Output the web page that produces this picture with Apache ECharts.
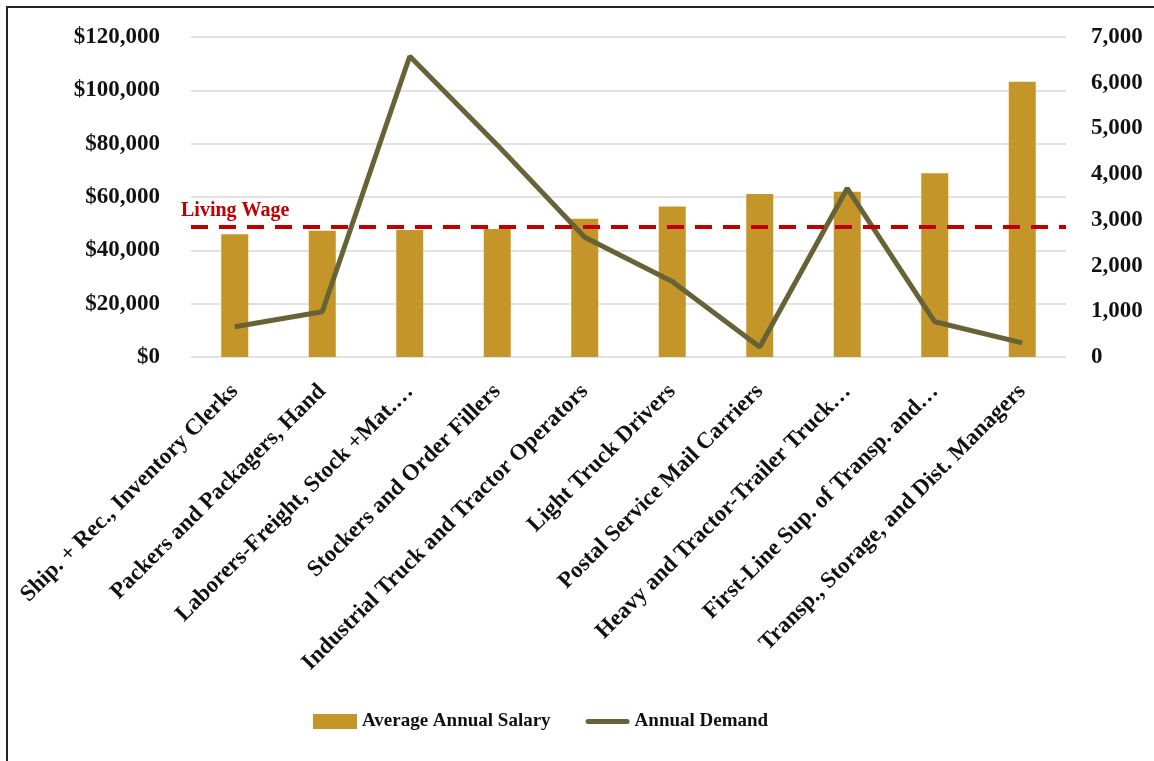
<!DOCTYPE html>
<html>
<head>
<meta charset="utf-8">
<script src="https://cdn.jsdelivr.net/npm/echarts@6/dist/echarts.min.js"></script>
<style>
  html, body { margin: 0; padding: 0; background: #fff; }
  .frame {
    position: absolute;
    left: 6px;
    top: 6px;
    width: 1200px;
    height: 800px;
    border: 2px solid #222;
    box-sizing: border-box;
  }
  #chart { position: absolute; left: 0; top: 0; width: 1154px; height: 761px; }
</style>
</head>
<body>
<div class="frame"></div>
<div id="chart"></div>
<script>
const categories = [
  'Ship. + Rec., Inventory Clerks',
  'Packers and Packagers, Hand',
  'Laborers-Freight, Stock +Mat.…',
  'Stockers and Order Fillers',
  'Industrial Truck and Tractor Operators',
  'Light Truck Drivers',
  'Postal Service Mail Carriers',
  'Heavy and Tractor-Trailer Truck…',
  'First-Line Sup. of Transp. and…',
  'Transp., Storage, and Dist. Managers'
]
const salary = [46000, 47300, 47600, 48000, 51800, 56400, 61100, 62000, 68900, 103200]
const demand = [660, 990, 6580, 4640, 2620, 1650, 220, 3690, 770, 310]
const livingWage = 49000

const font = '"Liberation Serif", "DejaVu Serif", serif'

const chart = echarts.init(document.getElementById('chart'))
chart.setOption({
  animation: false,
  textStyle: { fontFamily: font },
  grid: {
    left: 191,
    right: 88,
    top: 37,
    bottom: 404
  },
  legend: {
    top: 707,
    left: 308,
    itemGap: 35,
    itemWidth: 44,
    itemHeight: 15,
    textStyle: { fontFamily: font, fontWeight: 'bold', fontSize: 19, color: '#111' },
    data: [
      { name: 'Average Annual Salary', icon: 'rect' },
      {
        name: 'Annual Demand',
        // thick rounded line, no marker
        icon: 'path://M2.5,0 L41.5,0 A2.5,2.5 0 0 1 41.5,5 L2.5,5 A2.5,2.5 0 0 1 2.5,0 Z'
      }
    ]
  },
  xAxis: {
    type: 'category',
    data: categories,
    axisLine: { show: false },
    axisTick: { show: false },
    axisLabel: {
      interval: 0,
      rotate: 45,
      margin: 31,
      fontFamily: font,
      fontWeight: 'bold',
      fontSize: 23,
      color: '#111'
    }
  },
  yAxis: [
    {
      type: 'value',
      min: 0,
      max: 120000,
      interval: 20000,
      axisLabel: {
        margin: 31,
        fontFamily: font,
        fontWeight: 'bold',
        fontSize: 23,
        color: '#111',
        formatter: v => '$' + v.toLocaleString('en-US')
      },
      splitLine: { lineStyle: { color: '#d9d9d9', width: 1.5 } }
    },
    {
      type: 'value',
      min: 0,
      max: 7000,
      interval: 1000,
      axisLabel: {
        margin: 25,
        fontFamily: font,
        fontWeight: 'bold',
        fontSize: 23,
        color: '#111',
        formatter: v => v.toLocaleString('en-US')
      },
      splitLine: { show: false }
    }
  ],
  series: [
    {
      name: 'Average Annual Salary',
      type: 'bar',
      barWidth: 27,
      data: salary,
      itemStyle: { color: '#c4962a' },
      markLine: {
        silent: true,
        symbol: 'none',
        lineStyle: { color: '#c00000', type: [17, 11], width: 4 },
        label: {
          show: true,
          position: 'insideStartTop',
          formatter: 'Living Wage',
          color: '#c00000',
          fontFamily: font,
          fontWeight: 'bold',
          fontSize: 20,
          distance: [-10, 6]
        },
        data: [{ yAxis: livingWage }]
      }
    },
    {
      name: 'Annual Demand',
      type: 'line',
      yAxisIndex: 1,
      data: demand,
      showSymbol: false,
      symbol: 'none',
      lineStyle: { color: '#676337', width: 5 },
      itemStyle: { color: '#676337' }
    }
  ]
})
</script>
</body>
</html>
